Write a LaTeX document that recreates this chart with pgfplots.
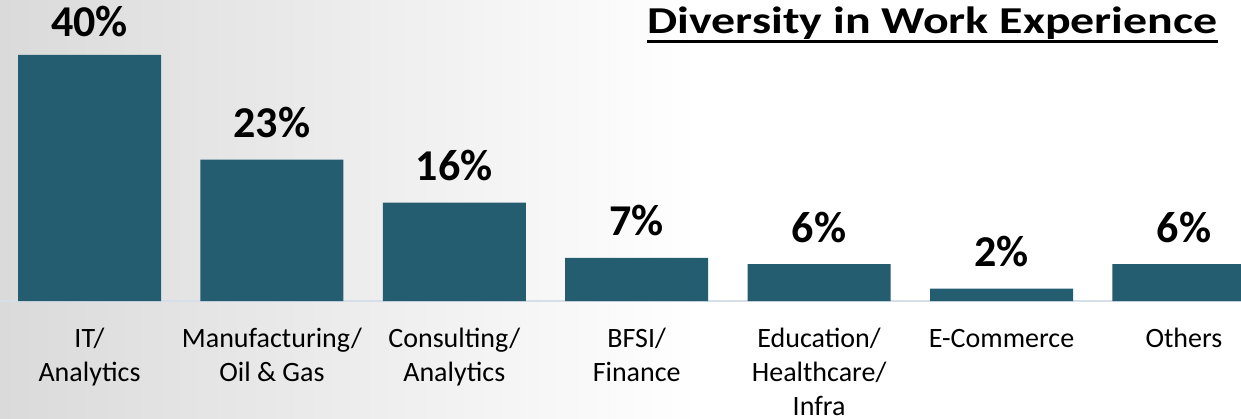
\documentclass[border=0pt]{standalone}
\usepackage{fontspec}
\setmainfont{Carlito}
\usepackage{graphicx}
\usepackage{pgfplots}
\pgfplotsset{compat=1.18}
\definecolor{barc}{RGB}{36,93,112}
\definecolor{axc}{RGB}{214,222,232}
\newcommand{\lbl}[1]{\begin{tabular}[t]{@{}c@{}}#1\end{tabular}}
\begin{document}
\begin{tikzpicture}
\fill[white] (0,-58.5pt) rectangle (620.5pt,150.5pt);
\shade[left color={rgb,255:red,218;green,218;blue,218}, right color=white] (0,-58.5pt) rectangle (350pt,150.5pt);
\begin{axis}[
  scale only axis, width=620.5pt, height=150.5pt,
  at={(0,0)}, anchor=south west,
  xmin=-0.4907, xmax=6.313, ymin=0, ymax=48.94,
  ybar, bar width=0.784,
  axis y line=none, axis x line*=bottom,
  x axis line style={-, draw=axc, line width=1pt},
  xtick={0,...,6},
  xticklabels={{\lbl{IT/\\Analytics}},{\lbl{Manufacturing/\\Oil \& Gas}},{\lbl{Consulting/\\Analytics}},{\lbl{BFSI/\\Finance}},{\lbl{Education/\\Healthcare/\\Infra}},{\lbl{E-Commerce}},{\lbl{Others}}},
  major tick length=0pt,
  xticklabel style={font=\fontsize{14}{17}\selectfont, anchor=base, inner sep=0pt, yshift=-23pt},
  ytick=\empty,
  /pgf/number format/assume math mode=true,
  visualization depends on={y \as \rawy},
  nodes near coords={\pgfmathprintnumber{\pgfplotspointmeta}\%},
  nodes near coords style={font=\bfseries\fontsize{22}{26}\selectfont, anchor=base, inner sep=0pt, yshift={ifthenelse(\rawy>30,9,11)}, text=black},
  clip=false,
]
\addplot[fill=barc, draw=none] coordinates {(0,40) (1,23) (2,16) (3,7) (4,6) (5,2) (6,6)};
\end{axis}
\node[anchor=base east, inner sep=0pt, font=\bfseries\fontsize{19}{23}\selectfont] (t) at (609pt,133.5pt) {\scalebox{1.26}[1]{Diversity in Work Experience}};
\draw[line width=1.7pt] (t.base west |- 0,129.7pt) -- (t.base east |- 0,129.7pt);
\pgfresetboundingbox
\useasboundingbox (0,-58.5pt) rectangle (620.5pt,150.5pt);
\end{tikzpicture}
\end{document}
